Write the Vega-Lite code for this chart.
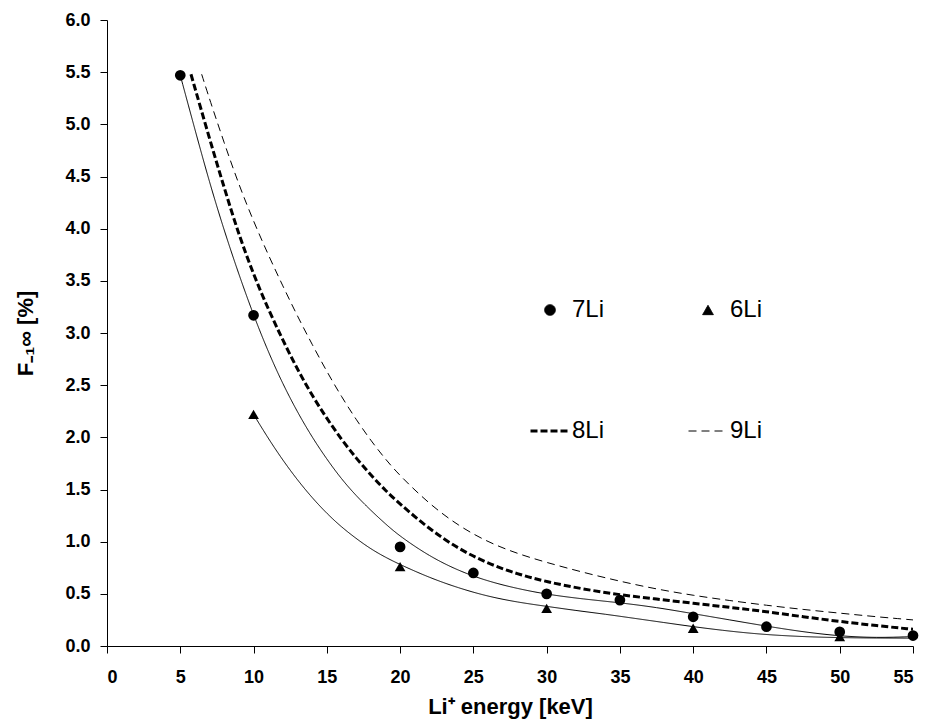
{
  "$schema": "https://vega.github.io/schema/vega-lite/v6.json",
  "width": 806,
  "height": 626,
  "autosize": {"type": "none"},
  "padding": {"left": 107, "top": 20, "right": 14, "bottom": 77},
  "background": "white",
  "config": {
    "view": {"stroke": null},
    "font": "Liberation Sans",
    "axis": {
      "grid": false,
      "domainColor": "black",
      "domainWidth": 1,
      "tickColor": "black",
      "tickSize": 7,
      "tickWidth": 1,
      "labelColor": "black",
      "labelFont": "Liberation Sans",
      "labelFontWeight": "bold",
      "labelFontSize": 18,
      "titleColor": "black",
      "titleFont": "Liberation Sans",
      "titleFontWeight": "bold",
      "titleFontSize": 22
    },
    "legend": {
      "orient": "none", "legendX": 422, "legendY": 278, "columns": 2, "direction": "horizontal",
      "columnPadding": 82, "rowPadding": 97, "clipHeight": 24,
      "labelFontSize": 24, "labelFont": "Liberation Sans", "labelColor": "black",
      "labelOffset": 1, "padding": 0, "symbolOffset": 0,
      "symbolFillColor": "black", "symbolStrokeColor": "black"
    }
  },
  "datasets": {
    "points": [
      {"x": 5, "y": 5.47, "series": "7Li"},
      {"x": 10, "y": 3.17, "series": "7Li"},
      {"x": 20, "y": 0.95, "series": "7Li"},
      {"x": 25, "y": 0.70, "series": "7Li"},
      {"x": 30, "y": 0.50, "series": "7Li"},
      {"x": 35, "y": 0.44, "series": "7Li"},
      {"x": 40, "y": 0.28, "series": "7Li"},
      {"x": 45, "y": 0.185, "series": "7Li"},
      {"x": 50, "y": 0.135, "series": "7Li"},
      {"x": 55, "y": 0.10, "series": "7Li"},
      {"x": 10, "y": 2.22, "series": "6Li"},
      {"x": 20, "y": 0.76, "series": "6Li"},
      {"x": 30, "y": 0.36, "series": "6Li"},
      {"x": 40, "y": 0.17, "series": "6Li"},
      {"x": 50, "y": 0.09, "series": "6Li"}
    ],
    "curves": [
      {"x": 5, "y": 5.47, "series": "7Li"},
      {"x": 6, "y": 4.95, "series": "7Li"},
      {"x": 7, "y": 4.44, "series": "7Li"},
      {"x": 8, "y": 3.98, "series": "7Li"},
      {"x": 9, "y": 3.56, "series": "7Li"},
      {"x": 10, "y": 3.17, "series": "7Li"},
      {"x": 11, "y": 2.82, "series": "7Li"},
      {"x": 12, "y": 2.51, "series": "7Li"},
      {"x": 13, "y": 2.24, "series": "7Li"},
      {"x": 14, "y": 2.0, "series": "7Li"},
      {"x": 15, "y": 1.79, "series": "7Li"},
      {"x": 16, "y": 1.6, "series": "7Li"},
      {"x": 17, "y": 1.44, "series": "7Li"},
      {"x": 18, "y": 1.3, "series": "7Li"},
      {"x": 19, "y": 1.17, "series": "7Li"},
      {"x": 20, "y": 1.05, "series": "7Li"},
      {"x": 22, "y": 0.86, "series": "7Li"},
      {"x": 24, "y": 0.72, "series": "7Li"},
      {"x": 26, "y": 0.62, "series": "7Li"},
      {"x": 28, "y": 0.55, "series": "7Li"},
      {"x": 30, "y": 0.495, "series": "7Li"},
      {"x": 32.5, "y": 0.45, "series": "7Li"},
      {"x": 35, "y": 0.415, "series": "7Li"},
      {"x": 37.5, "y": 0.37, "series": "7Li"},
      {"x": 40, "y": 0.31, "series": "7Li"},
      {"x": 42.5, "y": 0.25, "series": "7Li"},
      {"x": 45, "y": 0.19, "series": "7Li"},
      {"x": 47.5, "y": 0.135, "series": "7Li"},
      {"x": 50, "y": 0.095, "series": "7Li"},
      {"x": 52.5, "y": 0.078, "series": "7Li"},
      {"x": 55, "y": 0.09, "series": "7Li"},
      {"x": 10, "y": 2.22, "series": "6Li"},
      {"x": 11, "y": 1.99, "series": "6Li"},
      {"x": 12, "y": 1.78, "series": "6Li"},
      {"x": 13, "y": 1.59, "series": "6Li"},
      {"x": 14, "y": 1.42, "series": "6Li"},
      {"x": 15, "y": 1.27, "series": "6Li"},
      {"x": 16, "y": 1.14, "series": "6Li"},
      {"x": 17, "y": 1.03, "series": "6Li"},
      {"x": 18, "y": 0.93, "series": "6Li"},
      {"x": 19, "y": 0.85, "series": "6Li"},
      {"x": 20, "y": 0.78, "series": "6Li"},
      {"x": 22, "y": 0.655, "series": "6Li"},
      {"x": 24, "y": 0.555, "series": "6Li"},
      {"x": 26, "y": 0.475, "series": "6Li"},
      {"x": 28, "y": 0.42, "series": "6Li"},
      {"x": 30, "y": 0.38, "series": "6Li"},
      {"x": 32, "y": 0.34, "series": "6Li"},
      {"x": 34, "y": 0.305, "series": "6Li"},
      {"x": 36, "y": 0.265, "series": "6Li"},
      {"x": 38, "y": 0.225, "series": "6Li"},
      {"x": 40, "y": 0.185, "series": "6Li"},
      {"x": 42, "y": 0.15, "series": "6Li"},
      {"x": 44, "y": 0.12, "series": "6Li"},
      {"x": 46, "y": 0.10, "series": "6Li"},
      {"x": 48, "y": 0.087, "series": "6Li"},
      {"x": 50, "y": 0.08, "series": "6Li"},
      {"x": 52.5, "y": 0.076, "series": "6Li"},
      {"x": 55, "y": 0.075, "series": "6Li"},
      {"x": 5.73, "y": 5.48, "series": "8Li"},
      {"x": 7, "y": 4.86, "series": "8Li"},
      {"x": 8, "y": 4.39, "series": "8Li"},
      {"x": 9, "y": 3.94, "series": "8Li"},
      {"x": 10, "y": 3.56, "series": "8Li"},
      {"x": 11, "y": 3.23, "series": "8Li"},
      {"x": 12, "y": 2.93, "series": "8Li"},
      {"x": 13, "y": 2.65, "series": "8Li"},
      {"x": 14, "y": 2.40, "series": "8Li"},
      {"x": 15, "y": 2.18, "series": "8Li"},
      {"x": 16, "y": 1.98, "series": "8Li"},
      {"x": 17, "y": 1.80, "series": "8Li"},
      {"x": 18, "y": 1.64, "series": "8Li"},
      {"x": 19, "y": 1.49, "series": "8Li"},
      {"x": 20, "y": 1.36, "series": "8Li"},
      {"x": 22, "y": 1.12, "series": "8Li"},
      {"x": 24, "y": 0.93, "series": "8Li"},
      {"x": 26, "y": 0.79, "series": "8Li"},
      {"x": 28, "y": 0.69, "series": "8Li"},
      {"x": 30, "y": 0.615, "series": "8Li"},
      {"x": 32.5, "y": 0.545, "series": "8Li"},
      {"x": 35, "y": 0.49, "series": "8Li"},
      {"x": 37.5, "y": 0.45, "series": "8Li"},
      {"x": 40, "y": 0.41, "series": "8Li"},
      {"x": 42.5, "y": 0.37, "series": "8Li"},
      {"x": 45, "y": 0.33, "series": "8Li"},
      {"x": 47.5, "y": 0.28, "series": "8Li"},
      {"x": 50, "y": 0.235, "series": "8Li"},
      {"x": 52.5, "y": 0.195, "series": "8Li"},
      {"x": 55, "y": 0.16, "series": "8Li"},
      {"x": 6.46, "y": 5.48, "series": "9Li"},
      {"x": 7, "y": 5.24, "series": "9Li"},
      {"x": 8, "y": 4.82, "series": "9Li"},
      {"x": 9, "y": 4.42, "series": "9Li"},
      {"x": 10, "y": 4.07, "series": "9Li"},
      {"x": 11, "y": 3.75, "series": "9Li"},
      {"x": 12, "y": 3.45, "series": "9Li"},
      {"x": 13, "y": 3.16, "series": "9Li"},
      {"x": 14, "y": 2.89, "series": "9Li"},
      {"x": 15, "y": 2.63, "series": "9Li"},
      {"x": 16, "y": 2.39, "series": "9Li"},
      {"x": 17, "y": 2.17, "series": "9Li"},
      {"x": 18, "y": 1.97, "series": "9Li"},
      {"x": 19, "y": 1.79, "series": "9Li"},
      {"x": 20, "y": 1.63, "series": "9Li"},
      {"x": 22, "y": 1.36, "series": "9Li"},
      {"x": 24, "y": 1.15, "series": "9Li"},
      {"x": 26, "y": 0.995, "series": "9Li"},
      {"x": 28, "y": 0.885, "series": "9Li"},
      {"x": 30, "y": 0.80, "series": "9Li"},
      {"x": 32.5, "y": 0.705, "series": "9Li"},
      {"x": 35, "y": 0.62, "series": "9Li"},
      {"x": 37.5, "y": 0.545, "series": "9Li"},
      {"x": 40, "y": 0.485, "series": "9Li"},
      {"x": 42.5, "y": 0.435, "series": "9Li"},
      {"x": 45, "y": 0.39, "series": "9Li"},
      {"x": 47.5, "y": 0.35, "series": "9Li"},
      {"x": 50, "y": 0.315, "series": "9Li"},
      {"x": 52.5, "y": 0.28, "series": "9Li"},
      {"x": 55, "y": 0.25, "series": "9Li"}
    ]
  },
  "encoding": {
    "x": {
      "field": "x", "type": "quantitative",
      "scale": {"domain": [0, 55], "nice": false, "zero": false},
      "axis": {
        "title": "Li⁺ energy [keV]",
        "values": [0, 5, 10, 15, 20, 25, 30, 35, 40, 45, 50, 55],
        "labelPadding": 15,
        "titleBaseline": "alphabetic",
        "titleY": 67
      }
    },
    "y": {
      "field": "y", "type": "quantitative",
      "scale": {"domain": [0, 6], "nice": false},
      "axis": {
        "title": "F₋₁∞ [%]",
        "values": [0, 0.5, 1, 1.5, 2, 2.5, 3, 3.5, 4, 4.5, 5, 5.5, 6],
        "format": ".1f",
        "labelPadding": 10,
        "titleBaseline": "alphabetic",
        "titleX": -75
      }
    }
  },
  "layer": [
    {
      "data": {"name": "curves"},
      "mark": {"type": "line", "color": "black", "interpolate": "basis", "clip": true},
      "encoding": {
        "strokeDash": {
          "field": "series", "type": "nominal",
          "scale": {"domain": ["7Li", "6Li", "8Li", "9Li"], "range": [[1, 0], [1, 0], [7, 3], [8, 5]]},
          "legend": {"title": null, "encode": {"symbols": {"update": {"stroke": {"value": "black"}, "fill": {"value": "black"}, "opacity": {"value": 1}}}}}
        },
        "strokeWidth": {
          "field": "series", "type": "nominal",
          "scale": {"type": "ordinal", "domain": ["7Li", "6Li", "8Li", "9Li"], "range": [1, 1, 3, 1]},
          "legend": {"title": null, "encode": {"symbols": {"update": {"stroke": {"value": "black"}, "fill": {"value": "black"}, "opacity": {"value": 1}}}}}
        }
      }
    },
    {
      "data": {"name": "points"},
      "mark": {"type": "point", "filled": true, "color": "black", "opacity": 1},
      "encoding": {
        "shape": {
          "field": "series", "type": "nominal",
          "scale": {"domain": ["7Li", "6Li", "8Li", "9Li"], "range": ["circle", "triangle-up", "M-1,0H1", "M-1,0H1"]},
          "legend": {"title": null, "encode": {"symbols": {"update": {"stroke": {"value": "black"}, "fill": {"value": "black"}, "opacity": {"value": 1}}}}}
        },
        "size": {
          "field": "series", "type": "nominal",
          "scale": {"type": "ordinal", "domain": ["7Li", "6Li", "8Li", "9Li"], "range": [115, 115, 1521, 1521]},
          "legend": {"title": null, "encode": {"symbols": {"update": {"stroke": {"value": "black"}, "fill": {"value": "black"}, "opacity": {"value": 1}}}}}
        }
      }
    }
  ]
}
